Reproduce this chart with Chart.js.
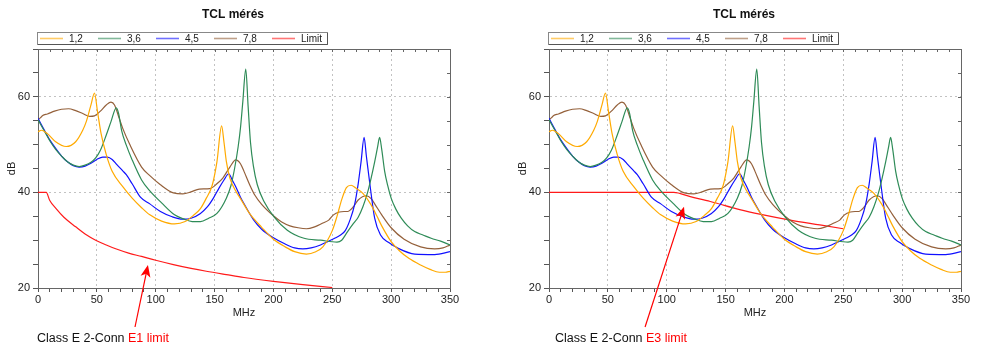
<!DOCTYPE html>
<html>
<head>
<meta charset="utf-8">
<script src="https://cdn.jsdelivr.net/npm/chart.js"></script>
<style>
  body { margin: 0; background: #fff; width: 1000px; height: 351px; position: relative; overflow: hidden; }
  .box { position: absolute; top: 0; }
</style>
</head>
<body>
<div class="box" style="left:0"><canvas id="grafE1" width="500" height="351"></canvas></div>
<div class="box" style="left:511px"><canvas id="grafE3" width="489" height="351"></canvas></div>
<script>
// TCL meres - adatok (MHz / dB)
const seriesLabels = ['1,2', '3,6', '4,5', '7,8', 'Limit'];

const freq12 = [0, 3, 8, 15, 24, 32, 38, 41, 45, 48, 50.5, 53.5, 58, 63, 72, 80, 88, 95, 105, 116, 125, 132, 138, 143, 148, 152, 156, 158, 160, 163, 168, 172, 180, 190, 200, 210, 218, 228, 236, 242, 250, 254, 258, 262, 266, 270, 276, 283, 288, 292, 300, 307, 315, 325, 333, 341, 346, 350];
const db12 = [52.7, 53.0, 52.3, 50.6, 49.6, 50.6, 53, 54.8, 58.3, 60.8, 57, 52.4, 47.9, 44.4, 41.2, 38.8, 36.8, 35.3, 34.0, 33.4, 33.9, 35.2, 36.6, 38.8, 41.5, 46.4, 53.9, 50.5, 46.5, 43, 40.3, 38.7, 35.5, 32.7, 30.2, 28.6, 27.6, 27.1, 27.6, 28.6, 32, 35, 38.5, 41, 41.5, 40.9, 39.8, 37.4, 35, 33, 29.7, 27.8, 26.2, 24.8, 23.9, 23.3, 23.3, 23.5];

const freq36 = [0, 5, 10, 15, 20, 25, 30, 35, 40, 45, 49, 53, 58, 62, 66.5, 68.5, 71, 75, 80, 88, 95, 105, 116, 124, 131, 138, 145, 152, 160, 164, 167, 170, 172, 174, 176.5, 178.5, 180.5, 183, 186.3, 192, 200.5, 211.8, 226, 240, 254, 258, 263, 268, 272, 276, 280, 283, 286, 288.5, 290.2, 292, 294.5, 297, 300, 304, 308.6, 314, 320, 327, 334, 342, 350];
const db36 = [55.2, 53, 50.8, 49, 47.6, 46.4, 45.7, 45.4, 45.7, 46.3, 47.2, 48.8, 52, 54.8, 57.7, 56.5, 53, 49.9, 46.8, 42.6, 40.3, 37.8, 35.3, 34.4, 33.9, 33.9, 34.6, 35.6, 38.8, 41.5, 45, 49.5, 53.5, 59, 65.8, 58, 50.5, 45.5, 41.6, 38.1, 34.9, 32.1, 30.4, 30, 29.6, 30, 31.8, 33.5, 34.8, 37, 40, 43, 46.4, 49.5, 51.5, 49, 44.4, 41.5, 38.8, 36.5, 34.6, 33, 31.8, 31.1, 30.4, 29.8, 29];

const freq45 = [0, 5, 10, 15, 20, 25, 30, 35, 40, 45, 50, 55, 59, 63, 67, 72, 75, 80, 87, 95, 104, 114, 123, 130, 138, 144, 149, 154, 158, 162, 165, 168, 172, 176, 183, 190, 200, 210, 218, 225, 232, 240, 246, 252, 257, 261, 265, 269, 272, 274.5, 277, 279, 282, 286, 291, 298, 306, 320, 337, 350];
const db45 = [55.5, 53.2, 51, 49.2, 47.6, 46.4, 45.6, 45.3, 45.5, 46.1, 46.9, 47.4, 47.4, 46.9, 45.8, 44.5, 43.7, 41.8, 39, 37.6, 36, 34.9, 34.4, 34.6, 35.6, 37, 38.8, 41, 42.6, 43.9, 42.6, 41.2, 39, 37.2, 34.3, 32.3, 30.5, 29.2, 28.4, 28.2, 28.4, 29, 29.7, 30.4, 31.1, 32, 34.2, 37.5, 41.8, 46.5, 51.5, 47.5, 41.6, 34.6, 31.1, 29.5, 28.3, 27.1, 27, 27.6];

const freq78 = [0, 2, 4, 8, 14, 20, 26, 32, 38, 44, 48, 53, 58, 62, 65, 69, 72, 78, 88, 95, 104, 115, 123, 130, 137, 146, 152, 157, 163, 168, 172, 175, 180, 184, 190, 200, 207, 214, 221, 228, 235, 242, 247, 251, 256, 260, 263, 268, 272, 279, 283, 286, 292, 300, 311, 325, 337, 344, 350];
const db78 = [55.2, 55.6, 56.1, 56.4, 57, 57.4, 57.5, 57.1, 56.5, 55.9, 56, 57, 58.3, 58.9, 58.3, 55.5, 53.4, 50, 45.3, 43.5, 41.6, 39.9, 39.7, 40.1, 40.7, 40.8, 41.8, 43, 45.3, 46.8, 46, 44.4, 41.5, 39.5, 37.5, 35.1, 33.8, 33, 32.6, 32.4, 32.8, 33.6, 34.2, 35.3, 35.9, 36, 36, 37, 38.4, 39.3, 38.7, 37.6, 35.3, 32.6, 30.2, 28.6, 28.2, 28.4, 29];

// Class E 2-Conn hatarertekek
const freqE1 = [0, 7, 10, 15, 22, 32, 40, 49, 58, 66, 77, 88, 100, 115, 130, 143, 160, 175, 200, 225, 250];
const dbE1 = [40, 40, 38.3, 36.7, 34.8, 32.8, 31.3, 30, 29, 28.2, 27.3, 26.6, 25.8, 24.9, 24.1, 23.5, 22.8, 22.2, 21.4, 20.7, 20.1];
const freqE3 = [0, 106, 120, 137, 162, 180, 205, 230, 250];
const dbE3 = [40, 40, 39.1, 38.1, 36.4, 35.4, 34.2, 33.2, 32.4];

const colors = ['#ffaa00', '#2e8b57', '#1010ff', '#94603a', '#ff1a1a'];

Chart.defaults.font.family = '"Liberation Sans", Arial, sans-serif';

const pts = (fs, ds) => fs.map((f, i) => ({ x: f, y: ds[i] }));

// keret: felso es jobb oldali vonal, befele mutato osztasokkal
const frame = {
  id: 'frame',
  afterDraw(chart) {
    const { ctx, chartArea: a, scales: { x, y } } = chart;
    ctx.save();
    ctx.strokeStyle = '#666';
    ctx.lineWidth = 1;
    ctx.beginPath();
    ctx.moveTo(a.left, a.top + 0.5); ctx.lineTo(a.right + 0.5, a.top + 0.5);
    ctx.moveTo(a.right + 0.5, a.top); ctx.lineTo(a.right + 0.5, a.bottom);
    x.ticks.forEach(t => {
      const px = Math.round(x.getPixelForValue(t.value)) + 0.5;
      ctx.moveTo(px, a.top); ctx.lineTo(px, a.top + 3);
    });
    y.ticks.forEach(t => {
      const py = Math.round(y.getPixelForValue(t.value)) + 0.5;
      ctx.moveTo(a.right, py); ctx.lineTo(a.right - 3, py);
    });
    ctx.stroke();
    ctx.restore();
  }
};

// bekeretezett jelmagyarazat
const boxLegend = {
  id: 'boxLegend',
  afterDraw(chart) {
    const { ctx, chartArea: a } = chart;
    const x0 = a.left - 1, y0 = a.top - 17;
    ctx.save();
    ctx.fillStyle = '#fff';
    ctx.fillRect(x0, y0, 291, 12);
    ctx.strokeStyle = '#888';
    ctx.lineWidth = 1;
    ctx.strokeRect(x0 + 0.5, y0 + 0.5, 290, 12);
    ctx.strokeStyle = '#555';
    ctx.beginPath();
    ctx.moveTo(x0 + 1, y0 + 12.5); ctx.lineTo(x0 + 290.5, y0 + 12.5); ctx.lineTo(x0 + 290.5, y0 + 1);
    ctx.stroke();
    ctx.font = '10px "Liberation Sans", Arial, sans-serif';
    ctx.textBaseline = 'middle';
    chart.data.datasets.forEach((ds, i) => {
      const ix = x0 + 3 + i * 58;
      ctx.globalAlpha = 0.6;
      ctx.strokeStyle = ds.borderColor;
      ctx.lineWidth = 1.6;
      ctx.beginPath();
      ctx.moveTo(ix, y0 + 6.5); ctx.lineTo(ix + 23, y0 + 6.5);
      ctx.stroke();
      ctx.globalAlpha = 1;
      ctx.fillStyle = '#222';
      ctx.fillText(ds.label, ix + 29, y0 + 7);
    });
    ctx.restore();
  }
};

// piros nyil es felirat a grafikon alatt
const arrowNote = note => ({
  id: 'arrowNote',
  afterDraw(chart) {
    const { ctx, chartArea: a, scales: { x, y } } = chart;
    const tx = x.getPixelForValue(note.tip[0]), ty = y.getPixelForValue(note.tip[1]);
    const sx = x.getPixelForValue(note.tail), sy = a.bottom + 39;
    const ang = Math.atan2(ty - sy, tx - sx);
    const c = Math.cos(ang), s = Math.sin(ang);
    ctx.save();
    ctx.strokeStyle = '#ff0000';
    ctx.fillStyle = '#ff0000';
    ctx.lineWidth = 1.2;
    ctx.beginPath();
    ctx.moveTo(sx, sy); ctx.lineTo(tx - 8 * c, ty - 8 * s);
    ctx.stroke();
    ctx.beginPath();
    ctx.moveTo(tx, ty);
    ctx.lineTo(tx - 12 * c + 5 * s, ty - 12 * s - 5 * c);
    ctx.lineTo(tx - 9 * c, ty - 9 * s);
    ctx.lineTo(tx - 12 * c - 5 * s, ty - 12 * s + 5 * c);
    ctx.closePath();
    ctx.fill();
    ctx.font = '12.5px "Liberation Sans", Arial, sans-serif';
    ctx.textBaseline = 'alphabetic';
    const lx = a.left + note.dx, ly = a.bottom + 54;
    ctx.fillStyle = '#111';
    ctx.fillText(note.label, lx, ly);
    ctx.fillStyle = '#ff0000';
    ctx.fillText(note.tag, lx + ctx.measureText(note.label).width, ly);
    ctx.restore();
  }
});

function makeChart(id, limFreq, limDb, note) {
  const cv = document.getElementById(id);
  const series = [[freq12, db12], [freq36, db36], [freq45, db45], [freq78, db78], [limFreq, limDb]];
  return new Chart(cv.getContext('2d'), {
    type: 'line',
    data: {
      datasets: series.map((s, i) => ({
        label: seriesLabels[i],
        data: pts(s[0], s[1]),
        borderColor: colors[i],
        backgroundColor: colors[i]
      }))
    },
    options: {
      responsive: false,
      animation: false,
      layout: { padding: { left: 16, right: cv.width - 450, top: 0, bottom: 31 } },
      elements: {
        line: { borderWidth: 1.2, cubicInterpolationMode: 'monotone', fill: false },
        point: { radius: 0 }
      },
      plugins: {
        legend: { display: false },
        tooltip: { enabled: false },
        title: {
          display: true,
          text: 'TCL mérés',
          color: '#111',
          font: { size: 12, weight: 'bold' },
          padding: { top: 7.5, bottom: 27.1 }
        }
      },
      scales: {
        x: {
          type: 'linear',
          min: 0,
          max: 350,
          afterFit: s => { s.height = 32; },
          ticks: {
            stepSize: 10,
            autoSkip: false,
            maxRotation: 0,
            padding: 1,
            color: '#222',
            font: { size: 11 },
            callback: v => (v % 50 === 0 ? v : '')
          },
          grid: {
            color: c => (c.tick && c.tick.value % 50 === 0 && c.tick.value > 0 && c.tick.value < 350) ? '#c2c2c2' : 'rgba(0,0,0,0)',
            tickColor: '#555',
            tickLength: 4
          },
          border: { color: '#666', dash: [2, 3] },
          title: { display: true, text: 'MHz', color: '#222', font: { size: 11 }, padding: { top: 2, bottom: 0 } }
        },
        y: {
          min: 20,
          max: 70,
          afterFit: s => { s.width = 22; },
          ticks: {
            stepSize: 5,
            autoSkip: false,
            padding: 3,
            color: '#222',
            font: { size: 11 },
            callback: v => (v % 20 === 0 ? v : '')
          },
          grid: {
            color: c => (c.tick && (c.tick.value === 40 || c.tick.value === 60)) ? '#c2c2c2' : 'rgba(0,0,0,0)',
            tickColor: '#555',
            tickLength: 5
          },
          border: { color: '#666', dash: [2, 3] },
          title: { display: true, text: 'dB', color: '#222', font: { size: 11 }, padding: { top: -11, bottom: 0 } }
        }
      }
    },
    plugins: [frame, boxLegend, arrowNote(note)]
  });
}

makeChart('grafE1', freqE1, dbE1, { label: 'Class E 2-Conn ', tag: 'E1 limit', tip: [93.4, 24.8], tail: 82.4, dx: -1 });
makeChart('grafE3', freqE3, dbE3, { label: 'Class E 2-Conn ', tag: 'E3 limit', tip: [114.7, 37.0], tail: 81.6, dx: 6 });
</script>
</body>
</html>
